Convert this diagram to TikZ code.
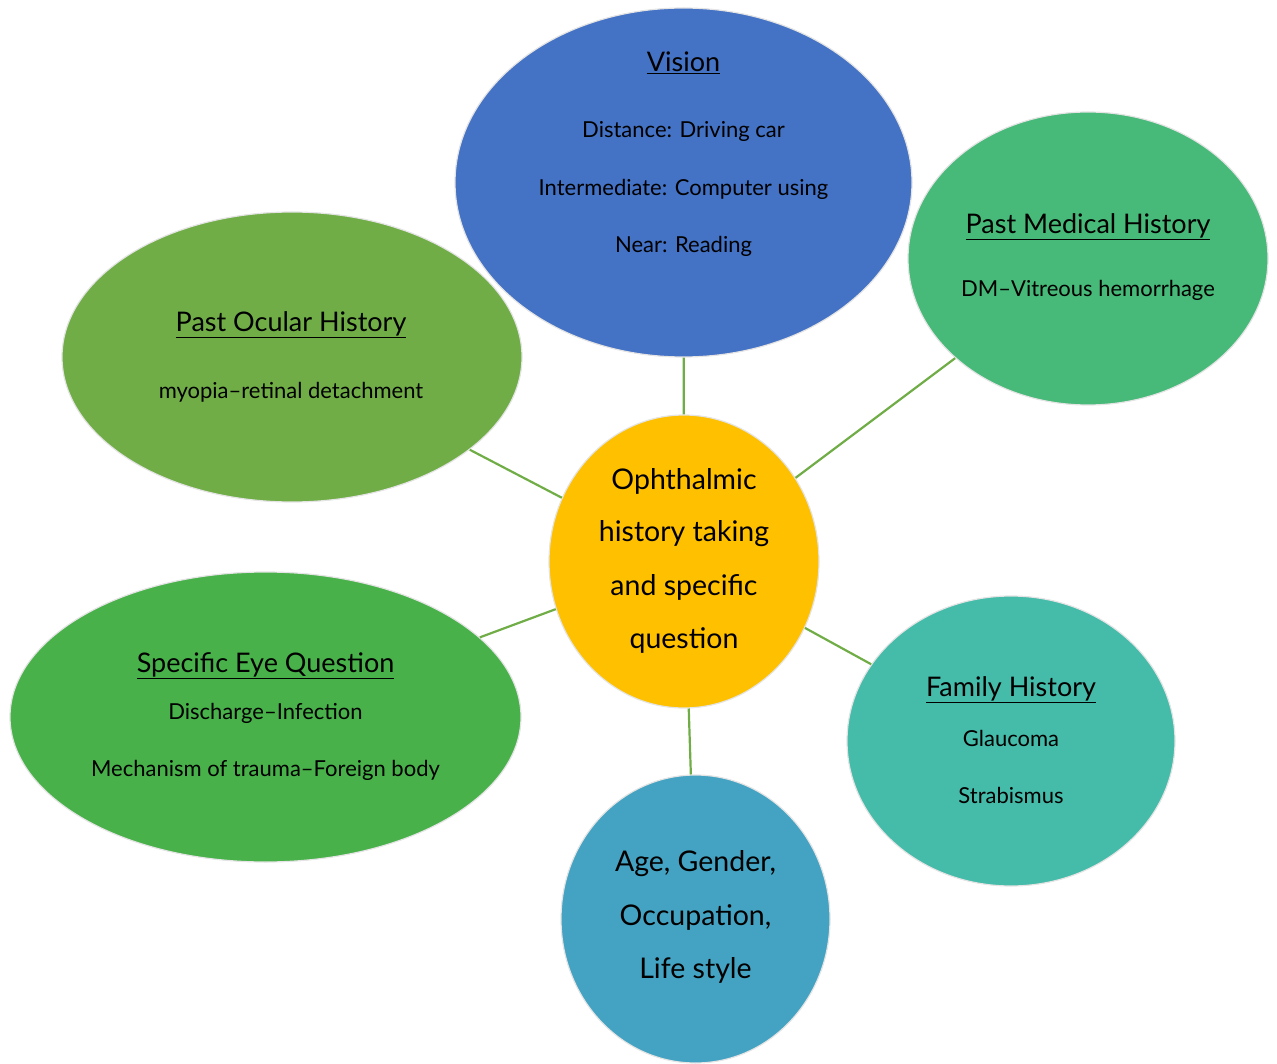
\documentclass[tikz,border=0pt]{standalone}
\usepackage{fontspec}
\setmainfont{Lato}
\usetikzlibrary{shapes.geometric}
\definecolor{cVision}{HTML}{4472C4}
\definecolor{cPMH}{HTML}{47B978}
\definecolor{cPOH}{HTML}{70AD47}
\definecolor{cCenter}{HTML}{FFC000}
\definecolor{cSEQ}{HTML}{48B14A}
\definecolor{cFam}{HTML}{45BBA9}
\definecolor{cAge}{HTML}{44A3C2}
\definecolor{cLink}{HTML}{70AD47}
\definecolor{cRim}{HTML}{E4E4E4}
\tikzset{
  bubble/.style={ellipse, draw=cRim, line width=1.2pt, inner sep=0pt},
  link/.style={draw=cLink, line width=2.2pt},
  ttl/.style={font=\fontsize{27}{32}\selectfont, text=black, inner sep=0pt},
  body/.style={font=\fontsize{22}{26}\selectfont, text=black, inner sep=0pt},
  big/.style={font=\fontsize{28.5}{34}\selectfont, text=black, inner sep=0pt},
}
\begin{document}
\begin{tikzpicture}[x=1pt,y=-1pt]
\useasboundingbox (0,0) rectangle (1277,1064);
% bubbles
\node[bubble, fill=cVision, minimum width=457, minimum height=349] (vis) at (683.5,182.5) {};
\node[bubble, fill=cPMH, minimum width=360, minimum height=293] (pmh) at (1088,258.5) {};
\node[bubble, fill=cPOH, minimum width=460, minimum height=290] (poh) at (292,357) {};
\node[bubble, fill=cSEQ, minimum width=511, minimum height=290] (seq) at (265.5,717) {};
\node[bubble, fill=cFam, minimum width=328, minimum height=290] (fam) at (1011,741) {};
\node[bubble, fill=cAge, minimum width=269, minimum height=288] (age) at (695.5,919) {};
\node[bubble, fill=cCenter, minimum width=270, minimum height=293] (ctr) at (684,561.5) {};
% connectors
\path[link] (ctr) -- (vis);
\path[link] (ctr) -- (pmh);
\path[link] (ctr) -- (poh);
\path[link] (ctr) -- (seq);
\path[link] (ctr) -- (fam);
\path[link] (ctr) -- (age);
% Vision
\node[ttl] (visT) at (683.5,63) {\underline{Vision}};
\node[body] (vis1) at (683.5,131) {Distance: Driving car};
\node[body] (vis2) at (683.5,189) {Intermediate: Computer using};
\node[body] (vis3) at (683.5,246) {Near: Reading};
% PMH
\node[ttl] (pmhT) at (1088,227) {\underline{Past Medical History}};
\node[body] (pmh1) at (1088,290) {DM–Vitreous hemorrhage};
% POH
\node[ttl] (pohT) at (291,325) {\underline{Past Ocular History}};
\node[body] (poh1) at (291,392) {myopia–retinal detachment};
% SEQ
\node[ttl] (seqT) at (265.5,666) {\underline{Specific Eye Question}};
\node[body] (seq1) at (265.5,713) {Discharge–Infection};
\node[body] (seq2) at (265.5,770) {Mechanism of trauma–Foreign body};
% Family
\node[ttl] (famT) at (1011,690) {\underline{Family History}};
\node[body] (fam1) at (1011,738) {Glaucoma};
\node[body] (fam2) at (1011,795) {Strabismus};
% Center
\node[big] (c1) at (684,481) {Ophthalmic};
\node[big] (c2) at (684,534) {history taking};
\node[big] (c3) at (684,587) {and specific};
\node[big] (c4) at (684,640) {question};
% Age
\node[big] (a1) at (695.5,864) {Age, Gender,};
\node[big] (a2) at (695.5,917) {Occupation,};
\node[big] (a3) at (695.5,970) {Life style};
\end{tikzpicture}
\end{document}
